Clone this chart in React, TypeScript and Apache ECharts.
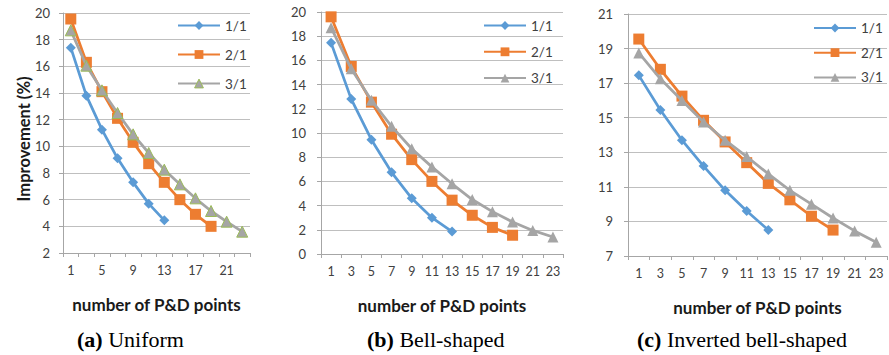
import React, { useEffect, useRef } from "react";
import * as echarts from "echarts";

const categories = ["1", "3", "5", "7", "9", "11", "13", "15", "17", "19", "21", "23"];
const seriesNames = ["1/1", "2/1", "3/1"];

// (a) Uniform
const uniform11 = [17.4, 13.8, 11.25, 9.1, 7.3, 5.7, 4.45];
const uniform21 = [19.55, 16.3, 14.1, 12.1, 10.3, 8.7, 7.3, 6.0, 4.9, 4.0];
const uniform31 = [18.7, 16.05, 14.2, 12.5, 10.9, 9.5, 8.25, 7.15, 6.1, 5.15, 4.35, 3.6];

// (b) Bell-shaped
const bell11 = [17.45, 12.8, 9.45, 6.75, 4.6, 3.0, 1.85];
const bell21 = [19.6, 15.5, 12.55, 9.9, 7.8, 6.0, 4.45, 3.2, 2.2, 1.55];
const bell31 = [18.7, 15.3, 12.7, 10.55, 8.7, 7.2, 5.8, 4.5, 3.5, 2.65, 1.95, 1.4];

// (c) Inverted bell-shaped
const inv11 = [17.45, 15.45, 13.7, 12.2, 10.8, 9.6, 8.5];
const inv21 = [19.55, 17.8, 16.25, 14.85, 13.6, 12.4, 11.2, 10.25, 9.3, 8.5];
const inv31 = [18.75, 17.25, 16.0, 14.75, 13.7, 12.75, 11.75, 10.8, 10.0, 9.2, 8.45, 7.8];

const yRanges = [
  { min: 2, max: 20, interval: 2 },
  { min: 0, max: 20, interval: 2 },
  { min: 7, max: 21, interval: 2 },
];

const captions = [
  { tag: "(a)", text: "Uniform" },
  { tag: "(b)", text: "Bell-shaped" },
  { tag: "(c)", text: "Inverted bell-shaped" },
];

const xTitle = "number of P&D points";
const yTitle = "Improvement (%)";

const BLUE = "#5B9BD5";
const ORANGE = "#ED7D31";
const GRAY = "#A5A5A5";
const GREEN = "#9BBB59";
const SANS = "Lato, 'Open Sans', sans-serif";
const SERIF = "'Liberation Serif', 'Times New Roman', serif";
const TEXT = "#404040";

export default function App() {
  const ref = useRef<HTMLDivElement>(null);

  useEffect(() => {
    if (!ref.current) return;
    const chart = echarts.init(ref.current, undefined, { renderer: "svg" });

    const grids = [
      { left: 63, top: 13, width: 187, height: 240 },
      { left: 321, top: 12, width: 242, height: 242 },
      { left: 628, top: 14, width: 259, height: 242 },
    ];
    const labelMargins = [13, 15, 15];
    const legends = [
      { left: 177, top: 18.5, gap: 15 },
      { left: 483, top: 18.5, gap: 12.3 },
      { left: 813, top: 21, gap: 10.7 },
    ];
    const dataSets = [
      [uniform11, uniform21, uniform31],
      [bell11, bell21, bell31],
      [inv11, inv21, inv31],
    ];
    const colors = [BLUE, ORANGE, GRAY];
    const symbols = ["diamond", "rect", "triangle"];
    const symbolSizes = [10, 11, 11];

    const series: any[] = [];
    dataSets.forEach((set, gi) => {
      set.forEach((vals, si) => {
        series.push({
          type: "line",
          name: seriesNames[si],
          xAxisIndex: gi,
          yAxisIndex: gi,
          data: vals,
          symbol: symbols[si],
          symbolSize: symbolSizes[si],
          showSymbol: true,
          showAllSymbol: true,
          lineStyle: { color: colors[si], width: 2.75 },
          itemStyle: {
            color: colors[si],
            borderColor: gi === 0 && si === 2 ? GREEN : colors[si],
            borderWidth: gi === 0 && si === 2 ? 1 : 0,
          },
          z: 2 + si,
        });
      });
    });

    const option: any = {
      animation: false,
      grid: grids.map((g) => ({ ...g, containLabel: false })),
      xAxis: grids.map((g, i) => ({
        type: "category",
        gridIndex: i,
        data: categories,
        boundaryGap: true,
        axisLine: { show: true, lineStyle: { color: "#A6A6A6", width: 1 } },
        axisTick: { show: true, interval: 0, length: 4, inside: false, lineStyle: { color: "#A6A6A6" } },
        axisLabel: {
          interval: i === 0 ? 1 : 0,
          margin: 11,
          color: TEXT,
          fontFamily: SANS,
          fontSize: 12.5,
        },
        splitLine: { show: false },
        name: xTitle,
        nameLocation: "middle",
        nameGap: 43,
        nameTextStyle: { fontFamily: SANS, fontWeight: "bold", fontSize: 17, color: "#1a1a1a" },
      })),
      yAxis: yRanges.map((r, i) => ({
        type: "value",
        gridIndex: i,
        min: r.min,
        max: r.max,
        interval: r.interval,
        axisLine: { show: true, lineStyle: { color: "#A6A6A6", width: 1 } },
        axisTick: { show: true, length: 4, inside: false, lineStyle: { color: "#A6A6A6" } },
        axisLabel: {
          margin: labelMargins[i],
          color: TEXT,
          fontFamily: SANS,
          fontSize: 13,
        },
        splitLine: { show: true, lineStyle: { color: "#BFBFBF", width: 1 } },
      })),
      legend: legends.map((l, i) => ({
        orient: "vertical",
        left: l.left,
        top: l.top,
        padding: 0,
        itemWidth: 42,
        itemHeight: 11,
        itemGap: l.gap,
        selectedMode: false,
        textStyle: { fontFamily: SANS, fontSize: 13.5, color: TEXT, lineHeight: 11 },
        data: seriesNames.map((n, si) => ({
          name: n,
          itemStyle:
            si === 2
              ? { color: GRAY, borderColor: i === 0 ? GREEN : GRAY, borderWidth: i === 0 ? 1 : 0 }
              : { color: colors[si], borderWidth: 0 },
        })),
      })),
      series,
      graphic: [
        {
          type: "text",
          x: 24,
          y: 139,
          rotation: Math.PI / 2,
          style: {
            text: yTitle,
            fontFamily: SANS,
            fontWeight: "bold",
            fontSize: 16.5,
            fill: "#1a1a1a",
            align: "center",
            verticalAlign: "middle",
          },
        },
        ...captions.map((c, i) => ({
          type: "text",
          x: [77, 367, 637][i],
          y: 339,
          style: {
            text: "{b|" + c.tag + "} " + c.text,
            fontFamily: SERIF,
            fontSize: 22,
            fill: "#000",
            align: "left",
            verticalAlign: "middle",
            rich: {
              b: { fontFamily: SERIF, fontSize: 22, fontWeight: "bold", fill: "#000" },
            },
          },
        })),
      ],
    };

    chart.setOption(option);
    return () => chart.dispose();
  }, []);

  return (
    <div
      ref={ref}
      style={{ position: "absolute", left: 0, top: 0, width: 889, height: 355, background: "#fff" }}
    />
  );
}
